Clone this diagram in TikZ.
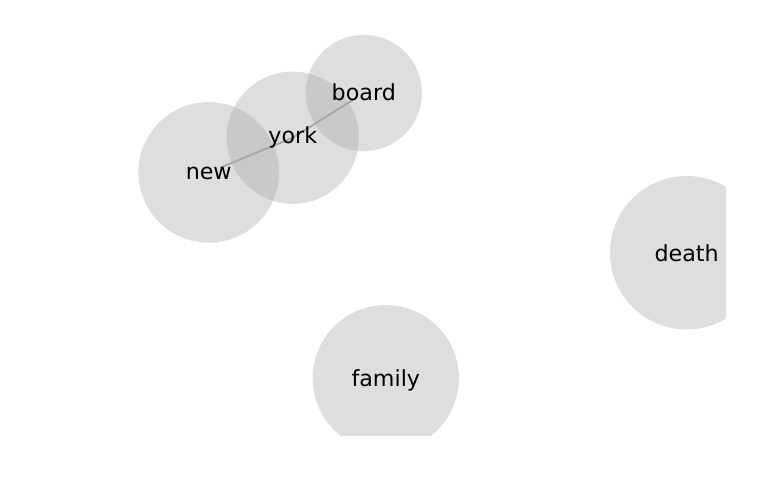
\documentclass[tikz,border=0pt]{standalone}
\usepackage{fontspec}
\setmainfont{DejaVu Sans}
\begin{document}
\begin{tikzpicture}[x=1pt,y=-1pt,
  circ/.style={circle,fill={rgb,255:red,164;green,164;blue,164},fill opacity=0.36,draw=none,inner sep=0pt},
  lbl/.style={font=\fontsize{22.2}{26}\selectfont,text=black,inner sep=0pt,anchor=base},
  edge/.style={draw={rgb,255:red,168;green,168;blue,168},line width=2pt,shorten <=12pt,shorten >=12pt}]
\useasboundingbox (0,0) rectangle (769,500);
\begin{scope}
\clip (0,0) rectangle (726,435);
\node[circ,minimum size=140.6pt] (new) at (208.7,172.4) {};
\node[circ,minimum size=132.3pt] (york) at (292.8,137.7) {};
\node[circ,minimum size=116.3pt] (board) at (363.8,93) {};
\node[circ,minimum size=153.4pt] (death) at (686.7,252.7) {};
\node[circ,minimum size=146.3pt] (family) at (385.8,378.2) {};
\draw[edge] (new.center) -- (york.center) -- (board.center);
\node[lbl,yshift=-6.6pt] (newl) at (new.center) {new};
\node[lbl,yshift=-5.6pt] (yorkl) at (york.center) {york};
\node[lbl,yshift=-8pt] (boardl) at (board.center) {board};
\node[lbl,yshift=-8.3pt] (deathl) at (death.center) {death};
\node[lbl,yshift=-7.8pt] (familyl) at (family.center) {family};
\end{scope}
\end{tikzpicture}
\end{document}
